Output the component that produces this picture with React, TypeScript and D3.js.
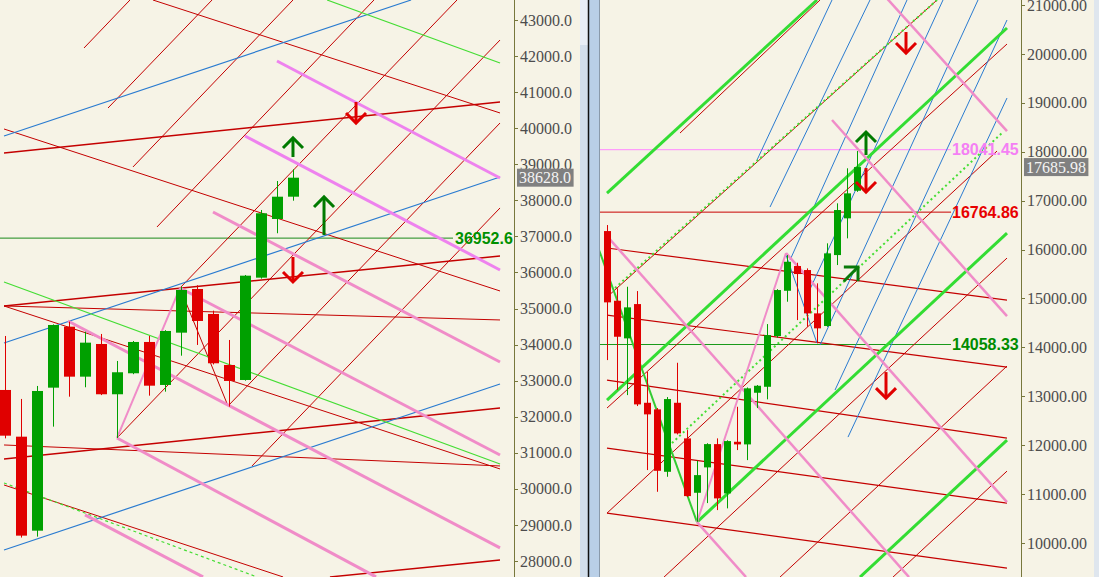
import React from "react";
import * as d3 from "d3";

const W = 1099;
const H = 577;
const BG = "#f6f3e6";

// ---------- left panel data ----------
// [open, high, low, close]
const leftBars = [
  [32742, 34239, 31400, 31475],
  [31447, 32493, 28650, 28703],
  [28841, 32853, 28675, 32714],
  [32806, 34560, 31725, 34544],
  [34497, 34636, 32556, 33111],
  [33111, 34358, 32817, 34054],
  [34017, 34295, 32600, 32623],
  [32623, 33546, 31411, 33233],
  [33205, 34100, 33180, 34073],
  [34073, 34239, 32584, 32861],
  [32881, 34400, 32695, 34378],
  [34331, 35606, 33693, 35515],
  [35542, 35645, 33990, 34655],
  [34849, 34941, 33450, 33482],
  [33435, 34128, 32279, 32992],
  [33019, 35930, 33000, 35911],
  [35856, 37732, 35830, 37641],
  [37483, 38536, 37087, 38101],
  [38101, 38861, 37990, 38628],
];
const leftTicks = d3.range(28000, 43001, 1000);
const leftLast = 38628.0;
const leftLevel = 36952.6;

// trend lines: [bar1, price1, bar2, price2]
const leftBlue = [
  [-0.03, 39784, 25.41, 43554],
  [-0.03, 34045, 30.97, 38647],
  [-0.03, 28306, 30.97, 32908],
];
const leftGreenThin = [
  [20.16, 43554, 30.97, 41808],
  [-0.03, 35736, 30.97, 30690],
];
const leftGreenDotted = [[-0.03, 30164, 15.78, 27558]];
const leftViolet = [
  [17.03, 41863, 30.97, 38620],
  [15.03, 39784, 30.97, 36069],
];
const leftPink = [
  [13.03, 37677, 30.97, 33518],
  [10.97, 35570, 30.97, 30940],
  [3.97, 34655, 30.97, 28362],
  [7.03, 31411, 23.22, 27558],
  [5.03, 29277, 12.41, 27558],
];
const leftPinkZig = [[7.03, 31411, 10.97, 35570]];
const leftRed = [
  [9.28, 43554, 30.97, 40422],
  [-0.03, 39978, 30.97, 35487],
  [-0.03, 35071, 30.97, 34683],
  [-0.03, 35071, 30.97, 30552],
  [-0.03, 31217, 30.97, 30635],
  [-0.03, 30108, 17.41, 27558],
  [10.97, 35570, 13.97, 32298],
];
const leftRedBold = [
  [-0.03, 39313, 30.97, 40727],
  [-0.03, 35071, 30.97, 36457],
  [-0.03, 30829, 30.97, 32243],
  [20.34, 27558, 30.97, 28029],
];
const leftRedFan = [
  [4.97, 42224, 7.84, 43554],
  [6.47, 40560, 12.97, 43554],
  [8.03, 38925, 18.03, 43554],
  [9.53, 37261, 23.09, 43554],
  [10.97, 35570, 28.28, 43554],
  [7.03, 31411, 30.97, 42445],
  [13.97, 32298, 30.97, 40144],
  [15.47, 30635, 30.97, 37788],
];
// arrows: [bar, tip price, direction]
const leftArrows: [number, number, string][] = [
  [21.97, 40144, "down"],
  [18.03, 39729, "up"],
  [19.97, 38093, "up"],
  [18.03, 35736, "down"],
];
const leftArrowLen = [21, 19, 38, 25];

// ---------- right panel data ----------
const rightBars = [
  [16378, 16501, 13740, 14920],
  [14953, 15207, 13127, 14217],
  [14184, 15239, 13024, 14818],
  [14885, 15151, 12800, 12834],
  [12867, 13501, 11491, 12630],
  [12732, 12760, 11047, 11476],
  [11456, 12984, 11354, 12943],
  [12867, 13685, 12220, 12241],
  [12139, 12309, 10940, 10959],
  [11027, 11681, 10434, 11388],
  [11546, 12040, 10816, 12022],
  [12022, 12139, 10673, 10912],
  [11014, 12100, 10708, 12084],
  [12070, 12785, 11900, 12016],
  [12016, 13180, 11695, 13162],
  [13072, 13230, 12759, 13215],
  [13194, 14476, 12937, 14251],
  [14231, 15190, 14200, 15172],
  [15157, 15887, 14933, 15750],
  [15663, 15730, 14558, 15499],
  [15581, 15615, 14421, 14695],
  [14695, 15309, 14082, 14389],
  [14436, 16127, 14420, 15922],
  [15887, 16945, 15683, 16808],
  [16638, 17661, 16229, 17149],
  [17202, 18014, 17180, 17686],
];
const rightTicks = d3.range(10000, 21001, 1000);
const rightLast = 17685.98;
const rightLevels = [18041.45, 16764.86, 14058.33];

const rightGreenThick = [
  [0.05, 17155, 21.05, 21102],
  [0.05, 12922, 40.05, 20530],
  [9.05, 10427, 40.05, 16337],
  [25.35, 9303, 40.05, 12104],
];
const rightGreenDotted = [
  [0.85, 15213, 33.05, 21102],
  [6.55, 12043, 39.65, 18403],
];
const rightGreenZig = [[-0.85, 16051, 9.05, 10427]];
const rightRedRise = [
  [7.35, 18382, 21.35, 21102],
  [0.05, 15029, 40.05, 22390],
  [0.05, 12759, 40.05, 20202],
  [0.05, 10611, 39.05, 18014],
  [5.75, 9303, 40.05, 15826],
  [17.35, 9303, 40.05, 13618],
  [28.65, 9303, 40.05, 11470],
];
const rightRedFlat = [
  [0.05, 16031, 40.05, 14967],
  [0.05, 14660, 40.05, 13597],
  [0.05, 13331, 40.05, 12145],
  [0.05, 11940, 40.05, 10816],
  [0.05, 10611, 40.05, 9487],
];
const rightPink = [
  [0.05, 16276, 30.25, 9303],
  [17.95, 15928, 40.05, 10836],
  [22.55, 18648, 40.05, 14640],
  [27.0, 21370, 40.05, 18423],
  [9.05, 10427, 13.95, 9303],
];
const rightPinkZig = [[9.05, 10427, 17.95, 15928]];
const rightBlue = [
  [15.05, 17830, 22.55, 21102],
  [16.35, 16869, 26.35, 21102],
  [18.35, 15785, 30.05, 21102],
  [19.85, 14967, 33.65, 21102],
  [21.35, 14047, 37.15, 21102],
  [22.85, 13127, 40.05, 20693],
  [24.15, 12166, 40.05, 19098],
  [17.95, 15888, 21.05, 14088],
];
const rightArrows: [number, number, string][] = [
  [29.95, 20018, "down"],
  [25.95, 18403, "up"],
  [25.95, 17176, "down"],
  [27.95, 12963, "down"],
  [25.15, 15642, "diag"],
];
const rightArrowLen = [21, 23, 24, 26, 20];

// ---------- layout ----------
const LEFT_AXIS = 514;
const RIGHT_X0 = 600;
const RIGHT_AXIS = 1021;

const xL = d3.scaleLinear().domain([0, 31]).range([4.5, 500.5]);
const yL = d3.scaleLinear().domain([28000, 43000]).range([561, 20]);
const xR = d3.scaleLinear().domain([0, 40]).range([606.5, 1006.5]);
const yR = d3.scaleLinear().domain([10000, 21000]).range([543, 5]);

type Sc = d3.ScaleLinear<number, number>;

const RED = "#e00000";
const GREEN = "#00a000";
const LINE_RED = "#c40000";

function Lines({ data, x, y, stroke, width = 1, dash }: { data: number[][]; x: Sc; y: Sc; stroke: string; width?: number; dash?: string }) {
  return (
    <g>
      {data.map((d, k) => (
        <line key={k} x1={x(d[0])} y1={y(d[1])} x2={x(d[2])} y2={y(d[3])} stroke={stroke} strokeWidth={width} strokeDasharray={dash} />
      ))}
    </g>
  );
}

function Candles({ data, x, y, w }: { data: number[][]; x: Sc; y: Sc; w: number }) {
  return (
    <g>
      {data.map(([o, h, l, c], i) => {
        const col = c >= o ? GREEN : RED;
        const cx = Math.round(x(i)) + 0.5;
        const top = y(Math.max(o, c));
        const bot = y(Math.min(o, c));
        return (
          <g key={i}>
            <line x1={cx} x2={cx} y1={y(h)} y2={y(l)} stroke={col} strokeWidth={1} />
            <rect x={cx - w / 2} y={top} width={w} height={Math.max(1.5, bot - top)} fill={col} />
          </g>
        );
      })}
    </g>
  );
}

function Arrow({ x, y, dir, len }: { x: number; y: number; dir: string; len: number }) {
  const hw = 10;
  const hh = 10;
  if (dir === "diag") {
    return (
      <g stroke="#0a7a0a" strokeWidth={3} fill="none" transform={`translate(${x},${y}) rotate(45)`}>
        <line x1={0} y1={1} x2={0} y2={len} />
        <polyline points={`${-hw},${hh} 0,0 ${hw},${hh}`} />
      </g>
    );
  }
  const up = dir === "up";
  const col = up ? "#007a00" : RED;
  const s = up ? 1 : -1;
  return (
    <g stroke={col} strokeWidth={3} fill="none">
      <line x1={x} y1={y + s * 1} x2={x} y2={y + s * len} />
      <polyline points={`${x - hw},${y + s * hh} ${x},${y} ${x + hw},${y + s * hh}`} />
    </g>
  );
}

function Axis({ ticks, y, x0, fmt, last }: { ticks: number[]; y: Sc; x0: number; fmt: (v: number) => string; last: number }) {
  const lastTxt = fmt(last);
  const boxW = lastTxt.length * 7.8 + 2;
  return (
    <g>
      <line x1={x0 + 0.5} x2={x0 + 0.5} y1={0} y2={H} stroke="#77773c" strokeWidth={1} />
      {ticks.map((t) => (
        <g key={t}>
          <line x1={x0} x2={x0 + 4} y1={Math.round(y(t)) + 0.5} y2={Math.round(y(t)) + 0.5} stroke="#77773c" />
          <text x={x0 + 6} y={y(t)} dy="0.35em" fontFamily="'Liberation Serif', serif" fontSize={16} fill="#4c4c4c">
            {fmt(t)}
          </text>
        </g>
      ))}
      <rect x={x0 + 3} y={y(last) - 9} width={boxW} height={18} fill="#808080" />
      <text x={x0 + 5} y={y(last)} dy="0.35em" fontFamily="'Liberation Serif', serif" fontSize={16} fill="#f4f4f4">
        {lastTxt}
      </text>
    </g>
  );
}

export default function App() {
  const fmtL = d3.format(".1f");
  const fmtR = d3.format(".2f");
  const levelColors = ["#f47ff4", "#e80000", "#008c00"];
  const levelLine = ["#ff88ff", "#c80000", "#1a9a1a"];
  const labelX = 952;
  return (
    <div style={{ position: "fixed", left: 0, top: 0 }}>
      <svg width={W} height={H} style={{ display: "block" }}>
        <defs>
          <clipPath id="clipL">
            <rect x={0} y={0} width={LEFT_AXIS} height={H} />
          </clipPath>
          <clipPath id="clipR">
            <rect x={RIGHT_X0} y={0} width={RIGHT_AXIS - RIGHT_X0} height={H} />
          </clipPath>
        </defs>
        <rect x={0} y={0} width={W} height={H} fill={BG} />

        {/* left panel */}
        <g clipPath="url(#clipL)">
          <line x1={0} x2={453} y1={yL(leftLevel)} y2={yL(leftLevel)} stroke="#1a8a1a" strokeWidth={1} />
          <Lines data={leftRedFan} x={xL} y={yL} stroke={LINE_RED} width={1} />
          <Lines data={leftRed} x={xL} y={yL} stroke={LINE_RED} width={1} />
          <Lines data={leftRedBold} x={xL} y={yL} stroke={LINE_RED} width={1.5} />
          <Lines data={leftBlue} x={xL} y={yL} stroke="#2a7bd0" width={1.2} />
          <Lines data={leftGreenThin} x={xL} y={yL} stroke="#44dd33" width={1.2} />
          <Lines data={leftGreenDotted} x={xL} y={yL} stroke="#44dd33" width={1.2} dash="3,3" />
          <Lines data={leftViolet} x={xL} y={yL} stroke="#ee82ee" width={3} />
          <Lines data={leftPink} x={xL} y={yL} stroke="#f08cc8" width={3} />
          <Lines data={leftPinkZig} x={xL} y={yL} stroke="#f08cc8" width={2} />
          <Candles data={leftBars} x={xL} y={yL} w={11} />
          {leftArrows.map(([i, p, dir], k) => (
            <Arrow key={k} x={xL(i)} y={yL(p)} dir={dir} len={leftArrowLen[k]} />
          ))}
          <text x={455} y={yL(leftLevel)} dy="0.36em" fontFamily="'Liberation Sans', Arial, sans-serif" fontWeight="bold" fontSize={16} fill="#009000">
            {fmtL(leftLevel)}
          </text>
        </g>
        <Axis ticks={leftTicks} y={yL} x0={LEFT_AXIS} fmt={fmtL} last={leftLast} />

        {/* splitter */}
        <rect x={580} y={0} width={8} height={H} fill="#d3dfec" />
        <rect x={580} y={0} width={8} height={45} fill="#e8eef6" />
        <rect x={589} y={0} width={11} height={H} fill="#b9cfe7" />
        <line x1={588.5} x2={588.5} y1={0} y2={H} stroke="#111" strokeWidth={1.5} />
        <line x1={599.5} x2={599.5} y1={0} y2={H} stroke="#8a9aab" strokeWidth={1} />

        {/* right panel */}
        <g clipPath="url(#clipR)">
          {rightLevels.map((v, k) => (
            <line key={k} x1={RIGHT_X0} x2={labelX - 1} y1={yR(v)} y2={yR(v)} stroke={levelLine[k]} strokeWidth={1} />
          ))}
          <Lines data={rightRedFlat} x={xR} y={yR} stroke={LINE_RED} width={1.2} />
          <Lines data={rightRedRise} x={xR} y={yR} stroke={LINE_RED} width={1} />
          <Lines data={rightBlue} x={xR} y={yR} stroke="#2a7bd0" width={1} />
          <Lines data={rightGreenDotted} x={xR} y={yR} stroke="#44dd33" width={2} dash="2,3" />
          <Lines data={rightGreenThick} x={xR} y={yR} stroke="#33dd33" width={3} />
          <Lines data={rightGreenZig} x={xR} y={yR} stroke="#33cc33" width={2} />
          <Lines data={rightPink} x={xR} y={yR} stroke="#f08cc8" width={2.5} />
          <Lines data={rightPinkZig} x={xR} y={yR} stroke="#f08cc8" width={2} />
          <Candles data={rightBars} x={xR} y={yR} w={7} />
          {rightArrows.map(([i, p, dir], k) => (
            <Arrow key={k} x={xR(i)} y={yR(p)} dir={dir} len={rightArrowLen[k]} />
          ))}
          {rightLevels.map((v, k) => (
            <text key={k} x={labelX} y={yR(v)} dy="0.36em" fontFamily="'Liberation Sans', Arial, sans-serif" fontWeight="bold" fontSize={16} fill={levelColors[k]}>
              {fmtR(v)}
            </text>
          ))}
        </g>
        <Axis ticks={rightTicks} y={yR} x0={RIGHT_AXIS} fmt={fmtR} last={rightLast} />
        <rect x={1094} y={0} width={5} height={H} fill="#dfe6ee" />
      </svg>
    </div>
  );
}
